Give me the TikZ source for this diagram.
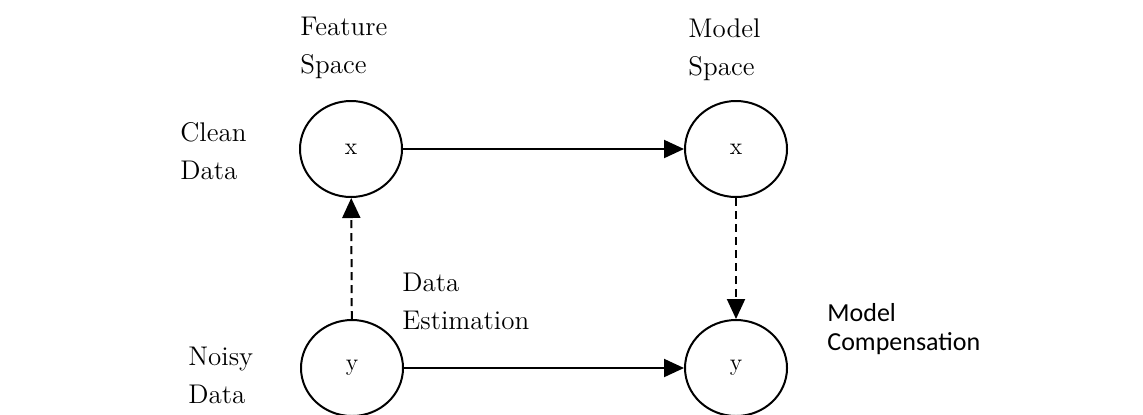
\documentclass[tikz,border=0pt]{standalone}
\usepackage{fontspec}
\newfontfamily\calibrifont{Carlito}
\usetikzlibrary{arrows.meta,positioning,shapes.geometric}

\begin{document}
\begin{tikzpicture}[x=0.5pt, y=-0.5pt,
  state/.style={ellipse, draw, line width=1pt, minimum width=51pt, minimum height=48pt, inner sep=0pt, font=\fontsize{12}{14}\selectfont},
  lbl/.style={align=left, anchor=north west, inner sep=0pt, font=\fontsize{13.5}{19}\selectfont},
  sanslbl/.style={align=left, anchor=north west, inner sep=0pt, font=\calibrifont\fontsize{13}{14.5}\selectfont},
  arr/.style={-{Triangle[length=10pt, width=9pt]}, line width=1pt},
  dasharr/.style={arr, dash pattern=on 4pt off 2.5pt}
]
\useasboundingbox (0,0) rectangle (1143,414);

% Clean data: feature and model space
\node[state] (fx) at (351,149) {x};
\node[state] (mx) at (736,149) {x};

% Noisy data
\node[state] (fy) at (352,368) {y};
\node[state] (my) at (736,368) {y};

% Connectors
\draw[arr] (fx) -- (mx);
\draw[arr] (fy) -- (my);
\draw[dasharr] (fy) -- (fx);
\draw[dasharr] (mx) -- (my);

% Labels
\node[lbl] (feat) at (300,17) {Feature\\Space};
\node[lbl] (mspace) at (688,18) {Model\\Space};
\node[lbl] (clean) at (180,122) {Clean\\Data};
\node[lbl] (noisy) at (188,347) {Noisy\\Data};
\node[lbl] (est) at (402,273) {Data\\Estimation};
\node[sanslbl] (comp) at (827,303) {Model\\Compensation};

\end{tikzpicture}
\end{document}
